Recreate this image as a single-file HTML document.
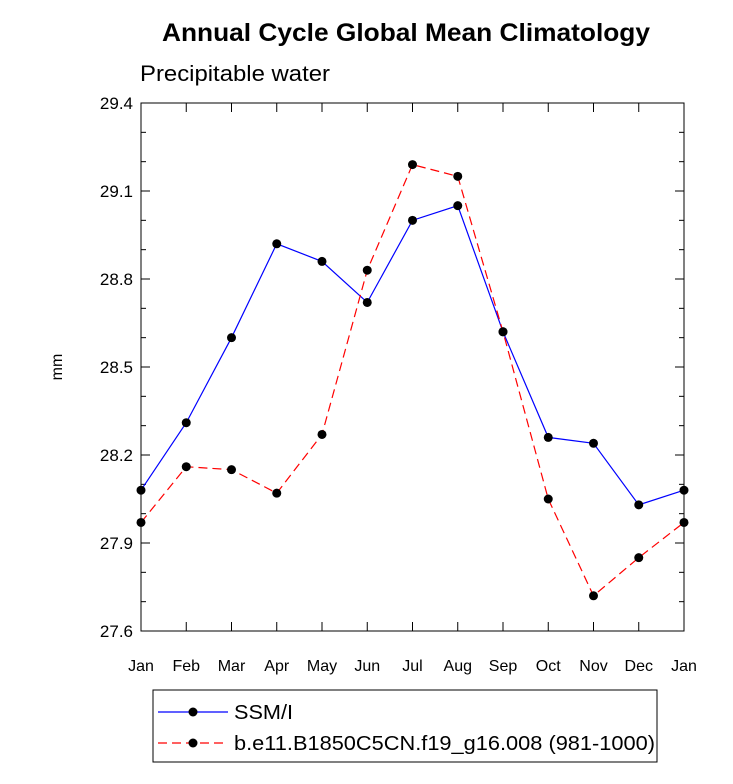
<!DOCTYPE html>
<html><head><meta charset="utf-8"><style>body{margin:0;background:#fff}svg{display:block;font-family:"Liberation Sans",sans-serif}</style></head>
<body>
<svg id="chart" width="733" height="784" xmlns="http://www.w3.org/2000/svg">
<text x="406" y="41" text-anchor="middle" font-size="25" font-weight="bold" textLength="488" lengthAdjust="spacingAndGlyphs">Annual Cycle Global Mean Climatology</text>
<text x="140" y="81" font-size="22" textLength="190" lengthAdjust="spacingAndGlyphs">Precipitable water</text>
<text transform="translate(62,367) rotate(-90)" text-anchor="middle" font-size="16">mm</text>
<rect x="141" y="103" width="543" height="528" fill="none" stroke="#000" stroke-width="1"/>
<g id="axes"></g>
<g id="series"></g>
<g>
<rect x="153" y="690" width="504" height="72" fill="none" stroke="#000"/>
<g>
<line x1="158" y1="712" x2="228" y2="712" stroke="#0000ff" stroke-width="1.2"/><circle cx="193" cy="712" r="4.5"/>
<text x="234" y="719" font-size="20" textLength="59" lengthAdjust="spacingAndGlyphs">SSM/I</text></g>
<g>
<line x1="158" y1="743" x2="228" y2="743" stroke="#ff0000" stroke-width="1.2" stroke-dasharray="9,5"/><circle cx="193" cy="743" r="4.5"/>
<text x="234" y="750" font-size="20" textLength="421" lengthAdjust="spacingAndGlyphs">b.e11.B1850C5CN.f19_g16.008 (981-1000)</text></g>
</g>
</svg>
<script>
const months=["Jan","Feb","Mar","Apr","May","Jun","Jul","Aug","Sep","Oct","Nov","Dec","Jan"];
const ssmi=[28.08,28.31,28.60,28.92,28.86,28.72,29.00,29.05,28.62,28.26,28.24,28.03,28.08];
const model=[27.97,28.16,28.15,28.07,28.27,28.83,29.19,29.15,28.62,28.05,27.72,27.85,27.97];
const yTicks=["27.6","27.9","28.2","28.5","28.8","29.1","29.4"];
const X0=141,X1=684,Y0=631,Y1=103,YMIN=27.6,YMAX=29.4;
const NS="http://www.w3.org/2000/svg";
function xs(i){return X0+(X1-X0)*i/(months.length-1);}
function ys(v){return Y0-(v-YMIN)/(YMAX-YMIN)*(Y0-Y1);}
function mk(t,a,p){const e=document.createElementNS(NS,t);for(const k in a)e.setAttribute(k,a[k]);p.appendChild(e);return e;}
const ax=document.getElementById("axes");
months.forEach((m,i)=>{const x=xs(i);
mk("line",{x1:x,y1:Y0,x2:x,y2:Y0-9,stroke:"#000"},ax);
mk("line",{x1:x,y1:Y1,x2:x,y2:Y1+9,stroke:"#000"},ax);
const t=mk("text",{x:x,y:671,"text-anchor":"middle","font-size":"16"},ax);t.textContent=m;

});
for(let v=YMIN;v<=YMAX+1e-6;v+=0.1){const y=ys(v);const major=Math.abs((v-YMIN)/0.3-Math.round((v-YMIN)/0.3))<1e-6;const L=major?9:5;
mk("line",{x1:X0,y1:y,x2:X0+L,y2:y,stroke:"#000"},ax);mk("line",{x1:X1,y1:y,x2:X1-L,y2:y,stroke:"#000"},ax);}
yTicks.forEach(s=>{const t=mk("text",{x:133,y:ys(parseFloat(s))+6,"text-anchor":"end","font-size":"17"},ax);t.textContent=s;

});
const sg=document.getElementById("series");
function draw(vals,color,dash,name){const g=mk("g",{},sg);


const pl=mk("polyline",{points:vals.map((v,i)=>xs(i)+","+ys(v)).join(" "),fill:"none",stroke:color,"stroke-width":"1.2"},g);
if(dash)pl.setAttribute("stroke-dasharray","9,5");
vals.forEach((v,i)=>{const c=mk("circle",{cx:xs(i),cy:ys(v),r:4.5,fill:"#000"},g);

});}
draw(ssmi,"#0000ff",false,"series-ssmi");
draw(model,"#ff0000",true,"series-model");
</script>
</body></html>
